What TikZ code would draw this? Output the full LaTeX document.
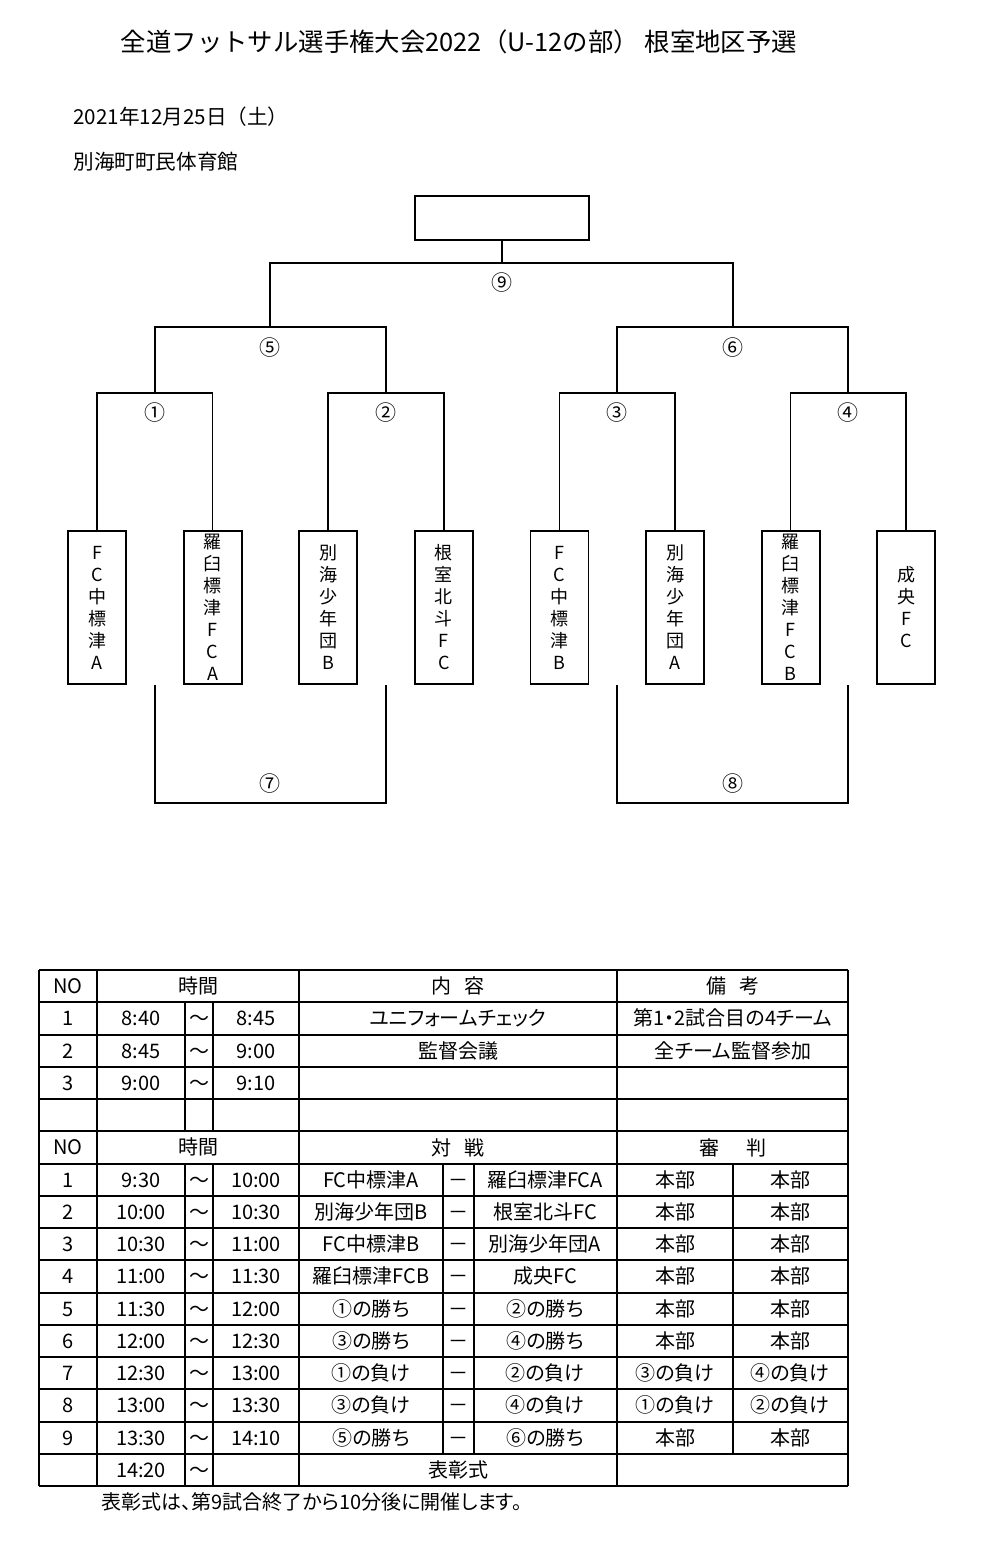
\documentclass[tikz,border=0pt]{standalone}
\usepackage{fontspec}
\setmainfont[RawFeature=+palt]{Noto Sans CJK JP}
\newfontfamily\plainjp{Noto Sans CJK JP}
\usetikzlibrary{positioning}

\begin{document}
\begin{tikzpicture}[x=0.5pt,y=-0.5pt,on grid,node distance=57.8pt,
   team/.style={draw,line width=0.9pt,minimum width=29pt,minimum height=76.5pt,
                inner sep=0pt,align=center,font=\fontsize{9}{11}\selectfont},
   wire/.style={line width=0.8pt},
   num/.style={font=\fontsize{10.5}{12}\selectfont,text height=0.88em,text depth=0.12em},
   cell/.style={font=\fontsize{10}{12}\selectfont,inner sep=0pt,text height=0.88em,text depth=0.12em},
   hline/.style={line width=1pt},
   vline/.style={line width=0.8pt}]
   \useasboundingbox (0,0) rectangle (983,1550);

   % heading
   \node [cell,font=\plainjp\fontsize{12.7}{14}\selectfont] (title) at (459,44) {全道フットサル選手権大会2022（U-12の部） 根室地区予選};
   \node [cell,font=\plainjp\fontsize{10.3}{12}\selectfont,anchor=west] (date) at (73,117) {2021年12月25日（土）};
   \node [cell,font=\fontsize{10.3}{12}\selectfont,anchor=west] (hall) at (73,162) {別海町町民体育館};

   % teams
   \node [team] (t1) at (97,607.5) {F\\C\\中\\標\\津\\A};
   \node [team, right=of t1] (t2) {羅\\臼\\標\\津\\F\\C\\A};
   \node [team, right=of t2] (t3) {別\\海\\少\\年\\団\\B};
   \node [team, right=of t3] (t4) {根\\室\\北\\斗\\F\\C};
   \node [team, right=of t4] (t5) {F\\C\\中\\標\\津\\B};
   \node [team, right=of t5] (t6) {別\\海\\少\\年\\団\\A};
   \node [team, right=of t6] (t7) {羅\\臼\\標\\津\\F\\C\\B};
   \node [team, right=of t7] (t8) {成\\央\\F\\C};
   \node [draw,line width=0.9pt,minimum width=87pt,minimum height=22pt] (win) at (502,218) {};

   \coordinate (j1) at (155,393);
   \coordinate (j2) at (386,393);
   \coordinate (j3) at (617,393);
   \coordinate (j4) at (848,393);
   \coordinate (j5) at (270,327);
   \coordinate (j6) at (733,327);
   \coordinate (j9) at (502,263);
   \coordinate (j7) at (270,803);
   \coordinate (j8) at (733,803);

   \draw [wire] (t1.north) |- (j1) -| (t2.north);
   \draw [wire] (t3.north) |- (j2) -| (t4.north);
   \draw [wire] (t5.north) |- (j3) -| (t6.north);
   \draw [wire] (t7.north) |- (j4) -| (t8.north);
   \draw [wire] (j1) |- (j5) -| (j2);
   \draw [wire] (j3) |- (j6) -| (j4);
   \draw [wire] (j5) |- (j9) -| (j6);
   \draw [wire] (j9) -- (win.south);
   \draw [wire] (t1.south -| j1) |- (j7) -| (t3.south -| j2);
   \draw [wire] (t5.south -| j3) |- (j8) -| (t7.south -| j4);

   \node [num] (m1) at ([yshift=-10pt]j1) {①};
   \node [num] (m2) at ([yshift=-10pt]j2) {②};
   \node [num] (m3) at ([yshift=-10pt]j3) {③};
   \node [num] (m4) at ([yshift=-10pt]j4) {④};
   \node [num] (m5) at ([yshift=-10.5pt]j5) {⑤};
   \node [num] (m6) at ([yshift=-10.5pt]j6) {⑥};
   \node [num] (m9) at ([yshift=-10pt]j9) {⑨};
   \node [num] (m7) at ([yshift=9.5pt]j7) {⑦};
   \node [num] (m8) at ([yshift=9.5pt]j8) {⑧};

   % timetable
   \foreach \k in {0,...,16}
      \draw [hline] (39,{970+32.25*\k}) -- (848,{970+32.25*\k});
   \foreach \x in {39,97,299,617,848}
      \draw [vline] (\x,970) -- (\x,1486);
   \foreach \x in {185,213} {
      \draw [vline] (\x,1002.25) -- (\x,1131.25);
      \draw [vline] (\x,1163.5) -- (\x,1486);
   }
   \foreach \x in {443,474,733}
      \draw [vline] (\x,1163.5) -- (\x,1453.75);

   \foreach \r in {1,6} {
      \node [cell] (no\r) at (68,{970+32.25*(\r-0.5)}) {NO};
      \node [cell] (ti\r) at (198,{970+32.25*(\r-0.5)}) {時間};
   }
   \node [cell] (hc1) at (458,986.1) {内\hspace{0.7em}容};
   \node [cell] (hd1) at (733,986.1) {備\hspace{0.7em}考};
   \node [cell] (hc6) at (458,1147.4) {対\hspace{0.7em}戦};
   \node [cell] (hd6) at (733,1147.4) {審\hspace{1.4em}判};

   \foreach \r/\n/\s/\e/\c/\d in {2/1/8:40/8:45/ユニフォームチェック/第1・2試合目の4チーム,
         3/2/8:45/9:00/監督会議/全チーム監督参加, 4/3/9:00/9:10//} {
      \node [cell] (n\r) at (68,{970+32.25*(\r-0.5)}) {\n};
      \node [cell] (s\r) at (141,{970+32.25*(\r-0.5)}) {\s};
      \node [cell] (w\r) at (199,{970+32.25*(\r-0.5)}) {〜};
      \node [cell] (e\r) at (256,{970+32.25*(\r-0.5)}) {\e};
      \node [cell] (c\r) at (458,{970+32.25*(\r-0.5)}) {\c};
      \node [cell] (d\r) at (733,{970+32.25*(\r-0.5)}) {\d};
   }

   \foreach \r/\n/\s/\e/\a/\b/\p/\q in {
         7/1/9:30/10:00/FC中標津A/羅臼標津FCA/本部/本部,
         8/2/10:00/10:30/別海少年団B/根室北斗FC/本部/本部,
         9/3/10:30/11:00/FC中標津B/別海少年団A/本部/本部,
         10/4/11:00/11:30/羅臼標津FCB/成央FC/本部/本部,
         11/5/11:30/12:00/①の勝ち/②の勝ち/本部/本部,
         12/6/12:00/12:30/③の勝ち/④の勝ち/本部/本部,
         13/7/12:30/13:00/①の負け/②の負け/③の負け/④の負け,
         14/8/13:00/13:30/③の負け/④の負け/①の負け/②の負け,
         15/9/13:30/14:10/⑤の勝ち/⑥の勝ち/本部/本部} {
      \node [cell] (n\r) at (68,{970+32.25*(\r-0.5)}) {\n};
      \node [cell] (s\r) at (141,{970+32.25*(\r-0.5)}) {\s};
      \node [cell] (w\r) at (199,{970+32.25*(\r-0.5)}) {〜};
      \node [cell] (e\r) at (256,{970+32.25*(\r-0.5)}) {\e};
      \node [cell] (a\r) at (371,{970+32.25*(\r-0.5)}) {\a};
      \node [cell] (v\r) at (458,{970+32.25*(\r-0.5)}) {－};
      \node [cell] (b\r) at (545,{970+32.25*(\r-0.5)}) {\b};
      \node [cell] (p\r) at (675,{970+32.25*(\r-0.5)}) {\p};
      \node [cell] (q\r) at (790,{970+32.25*(\r-0.5)}) {\q};
   }
   \node [cell] (s16) at (141,1469.9) {14:20};
   \node [cell] (w16) at (199,1469.9) {〜};
   \node [cell] (c16) at (458,1469.9) {表彰式};
   \node [cell,anchor=west] (note) at (101,1502) {表彰式は、第9試合終了から10分後に開催します。};
\end{tikzpicture}
\end{document}
